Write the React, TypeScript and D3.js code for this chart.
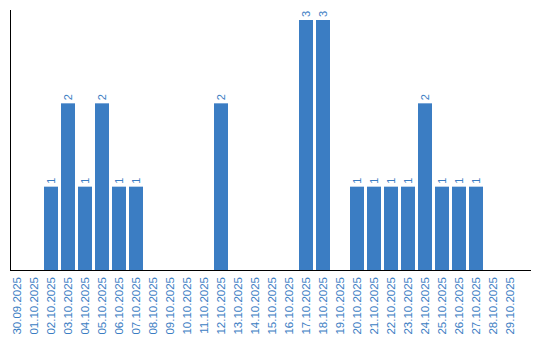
import React from "react";
import * as d3 from "d3";

const dates = [
  "30.09.2025","01.10.2025","02.10.2025","03.10.2025","04.10.2025","05.10.2025",
  "06.10.2025","07.10.2025","08.10.2025","09.10.2025","10.10.2025","11.10.2025",
  "12.10.2025","13.10.2025","14.10.2025","15.10.2025","16.10.2025","17.10.2025",
  "18.10.2025","19.10.2025","20.10.2025","21.10.2025","22.10.2025","23.10.2025",
  "24.10.2025","25.10.2025","26.10.2025","27.10.2025","28.10.2025","29.10.2025",
];
const counts = [0,0,1,2,1,2,1,1,0,0,0,0,2,0,0,0,0,3,3,0,1,1,1,1,2,1,1,1,0,0];

const W = 540, H = 340;
const color = "#3b7dc3";
const font = "'Liberation Sans', Arial, sans-serif";

export default function App() {
  const x = d3.scaleBand<string>().domain(dates).range([10, 517]).paddingInner(3 / 17).paddingOuter(0);
  const y = d3.scaleLinear().domain([0, 3]).range([270, 20]);
  return (
    <svg width={W} height={H} style={{ position: "absolute", left: 0, top: 0 }}>
      {dates.map((d, i) => counts[i] > 0 ? (
        <g key={d}>
          <rect x={x(d)} y={y(counts[i])} width={x.bandwidth()} height={y(0) - y(counts[i])} fill={color} />
          <text
            transform={`translate(${(x(d) as number) + x.bandwidth() / 2},${y(counts[i]) - 3}) rotate(-90)`}
            textAnchor="start" dominantBaseline="central" fontFamily={font} fontSize={11} fill={color}
          >{counts[i]}</text>
        </g>
      ) : null)}
      <line x1={10.5} x2={10.5} y1={10} y2={270} stroke="#000" strokeWidth={1} />
      <line x1={10} x2={531} y1={270.5} y2={270.5} stroke="#000" strokeWidth={1} />
      {dates.map((d) => (
        <text key={"l" + d}
          transform={`translate(${(x(d) as number) + x.bandwidth() / 2},277) rotate(-90)`}
          textAnchor="end" dominantBaseline="central" fontFamily={font} fontSize={11.5} fill={color}
        >{d}</text>
      ))}
    </svg>
  );
}
